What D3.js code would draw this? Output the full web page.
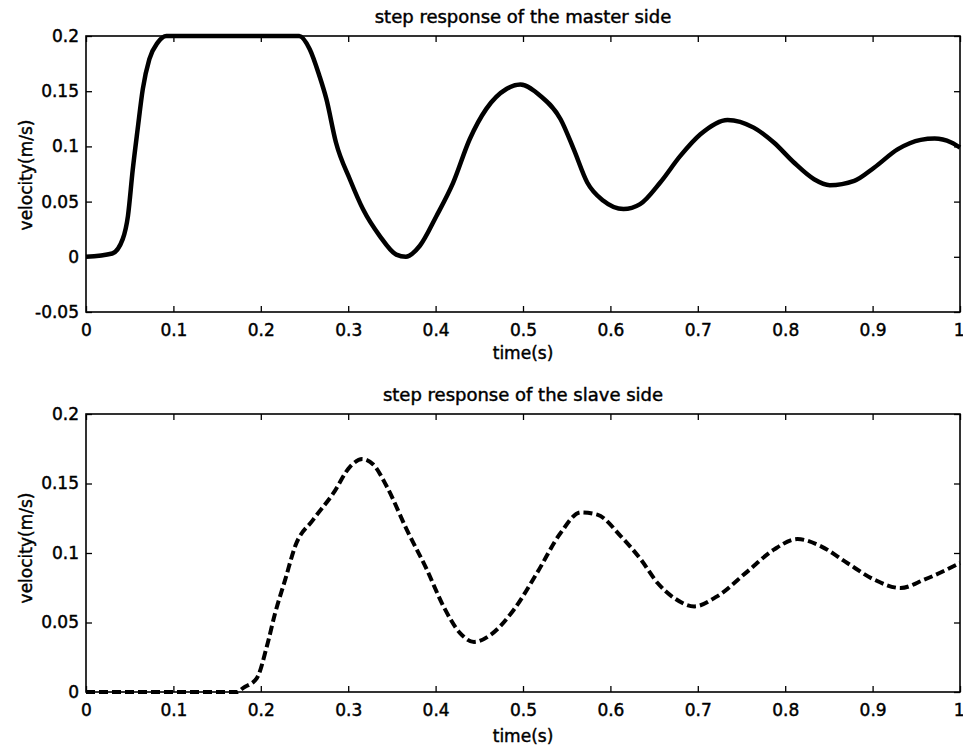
<!DOCTYPE html>
<meta charset="utf-8">
<script src="https://d3js.org/d3.v7.min.js"></script>
<style>
  body { margin: 0; background: #fff; }
  text { font-family: "DejaVu Sans", sans-serif; fill: #000; stroke: #000; stroke-width: 0.45px; }
</style>
<svg id="chart" width="963" height="749"></svg>
<script>

// master side (solid line)
var masterTime = [0, 0.03, 0.042, 0.048, 0.0535, 0.059, 0.065, 0.0725, 0.082, 0.092, 0.244,
  0.256, 0.267, 0.275, 0.286, 0.302, 0.317, 0.336, 0.355, 0.366, 0.382, 0.401, 0.42, 0.439,
  0.458, 0.481, 0.497, 0.52, 0.543, 0.558, 0.5735, 0.592, 0.615, 0.634, 0.657, 0.68, 0.703,
  0.734, 0.764, 0.787, 0.81, 0.833, 0.851, 0.879, 0.902, 0.929, 0.955, 0.971, 0.99, 1.0];
var masterVel = [0, 0.003, 0.016, 0.037, 0.079, 0.115, 0.152, 0.179, 0.194, 0.2, 0.2,
  0.188, 0.164, 0.143, 0.1035, 0.07, 0.043, 0.019, 0.002, 0, 0.01, 0.037, 0.067, 0.1065,
  0.134, 0.152, 0.156, 0.1457, 0.1246, 0.0975, 0.0673, 0.0507, 0.0432, 0.0477, 0.0673, 0.0914, 0.111,
  0.124, 0.117, 0.1035, 0.0854, 0.0703, 0.0649, 0.0688, 0.0809, 0.0975, 0.1059, 0.1071, 0.1035, 0.099];

// slave side (dashed line)
var slaveTime = [0, 0.1726, 0.18, 0.1955, 0.207, 0.2165, 0.228, 0.2394, 0.26, 0.283, 0.302,
  0.316, 0.329, 0.344, 0.367, 0.39, 0.409, 0.428, 0.444, 0.463, 0.4895, 0.516, 0.543, 0.566,
  0.585, 0.612, 0.635, 0.654, 0.673, 0.696, 0.722, 0.757, 0.787, 0.814, 0.841, 0.871, 0.902,
  0.932, 0.959, 1.0];
var slaveVel = [0, 0, 0.003, 0.01, 0.033, 0.057, 0.081, 0.105, 0.124, 0.143, 0.162,
  0.1676, 0.1635, 0.148, 0.1168, 0.088, 0.0616, 0.0424, 0.036, 0.0412, 0.0592, 0.0856, 0.1144, 0.1292,
  0.1276, 0.112, 0.0952, 0.0784, 0.0676, 0.0616, 0.0688, 0.0868, 0.1024, 0.11, 0.1048, 0.0928, 0.0808,
  0.0748, 0.0808, 0.0928];

var xTicks = [0, 0.1, 0.2, 0.3, 0.4, 0.5, 0.6, 0.7, 0.8, 0.9, 1];
var xTickLabels = ["0", "0.1", "0.2", "0.3", "0.4", "0.5", "0.6", "0.7", "0.8", "0.9", "1"];
var yTicksTop = [-0.05, 0, 0.05, 0.1, 0.15, 0.2];
var yTickLabelsTop = ["-0.05", "0", "0.05", "0.1", "0.15", "0.2"];
var yTicksBottom = [0, 0.05, 0.1, 0.15, 0.2];
var yTickLabelsBottom = ["0", "0.05", "0.1", "0.15", "0.2"];

var svg = d3.select("#chart");
var left = 86, right = 960;

function panel(opt) {
  var x = d3.scaleLinear().domain([0, 1]).range([left, right]);
  var y = d3.scaleLinear().domain(opt.yDomain).range([opt.bottom, opt.top]);
  var g = svg.append("g");

  // line
  var line = d3.line()
    .x(function(d){ return x(d[0]) })
    .y(function(d){ return y(d[1]) })
    .curve(d3.curveMonotoneX);
  var pts = d3.zip(opt.t, opt.v);
  g.append("path")
    .attr("d", line(pts))
    .attr("fill", "none")
    .attr("stroke", "#000")
    .attr("stroke-width", opt.width)
    .attr("stroke-dasharray", opt.dash || null)
    .attr("stroke-linejoin", "round");

  // ticks inward, all four sides
  var tl = 6;
  var xlabels = d3.scaleOrdinal().domain(xTicks).range(xTickLabels);
  var ylabels = d3.scaleOrdinal().domain(opt.yTicks).range(opt.yLabels);

  var xb = g.append("g").attr("transform", "translate(0," + opt.bottom + ")")
    .call(d3.axisBottom(x).tickValues(xTicks).tickSizeInner(-tl).tickSizeOuter(0)
      .tickPadding(12).tickFormat(function(d){ return xlabels(d) }));
  // last label sits against the right edge, like the original
  xb.selectAll(".tick text").filter(function(d){ return d === 1 })
    .attr("text-anchor", "end").attr("dx", 4);
  g.append("g").attr("transform", "translate(0," + opt.top + ")")
    .call(d3.axisTop(x).tickValues(xTicks).tickSizeInner(-tl).tickSizeOuter(0).tickFormat(""));
  g.append("g").attr("transform", "translate(" + left + ",0)")
    .call(d3.axisLeft(y).tickValues(opt.yTicks).tickSizeInner(-tl).tickSizeOuter(0)
      .tickPadding(7).tickFormat(function(d){ return ylabels(d) }));
  g.append("g").attr("transform", "translate(" + right + ",0)")
    .call(d3.axisRight(y).tickValues(opt.yTicks).tickSizeInner(-tl).tickSizeOuter(0).tickFormat(""));

  g.selectAll(".domain").remove();
  g.selectAll(".tick line").attr("stroke", "#000").attr("stroke-width", 1.3);
  g.selectAll(".tick text").style("font-size", "17px").attr("fill", "#000");

  // box
  g.append("rect")
    .attr("x", left).attr("y", opt.top)
    .attr("width", right - left).attr("height", opt.bottom - opt.top)
    .attr("fill", "none").attr("stroke", "#000").attr("stroke-width", 1.6);

  // title and labels
  g.append("text").attr("x", (left + right) / 2).attr("y", opt.top - 13)
    .attr("text-anchor", "middle").style("font-size", "18px").text(opt.title);
  g.append("text").attr("x", (left + right) / 2).attr("y", opt.bottom + opt.xlabOff)
    .attr("text-anchor", "middle").style("font-size", "17px").text("time(s)");
  g.append("text")
    .attr("transform", "translate(32," + opt.ylabY + ") rotate(-90)")
    .attr("text-anchor", "middle").style("font-size", "17px").text("velocity(m/s)");
}

panel({ top: 36, bottom: 312, yDomain: [-0.05, 0.2], yTicks: yTicksTop, yLabels: yTickLabelsTop,
  t: masterTime, v: masterVel, width: 4.5, title: "step response of the master side",
  xlabOff: 47, ylabY: 175 });

panel({ top: 414, bottom: 692, yDomain: [0, 0.2], yTicks: yTicksBottom, yLabels: yTickLabelsBottom,
  t: slaveTime, v: slaveVel, width: 4, dash: "9,4", title: "step response of the slave side",
  xlabOff: 50, ylabY: 548 });

</script>
